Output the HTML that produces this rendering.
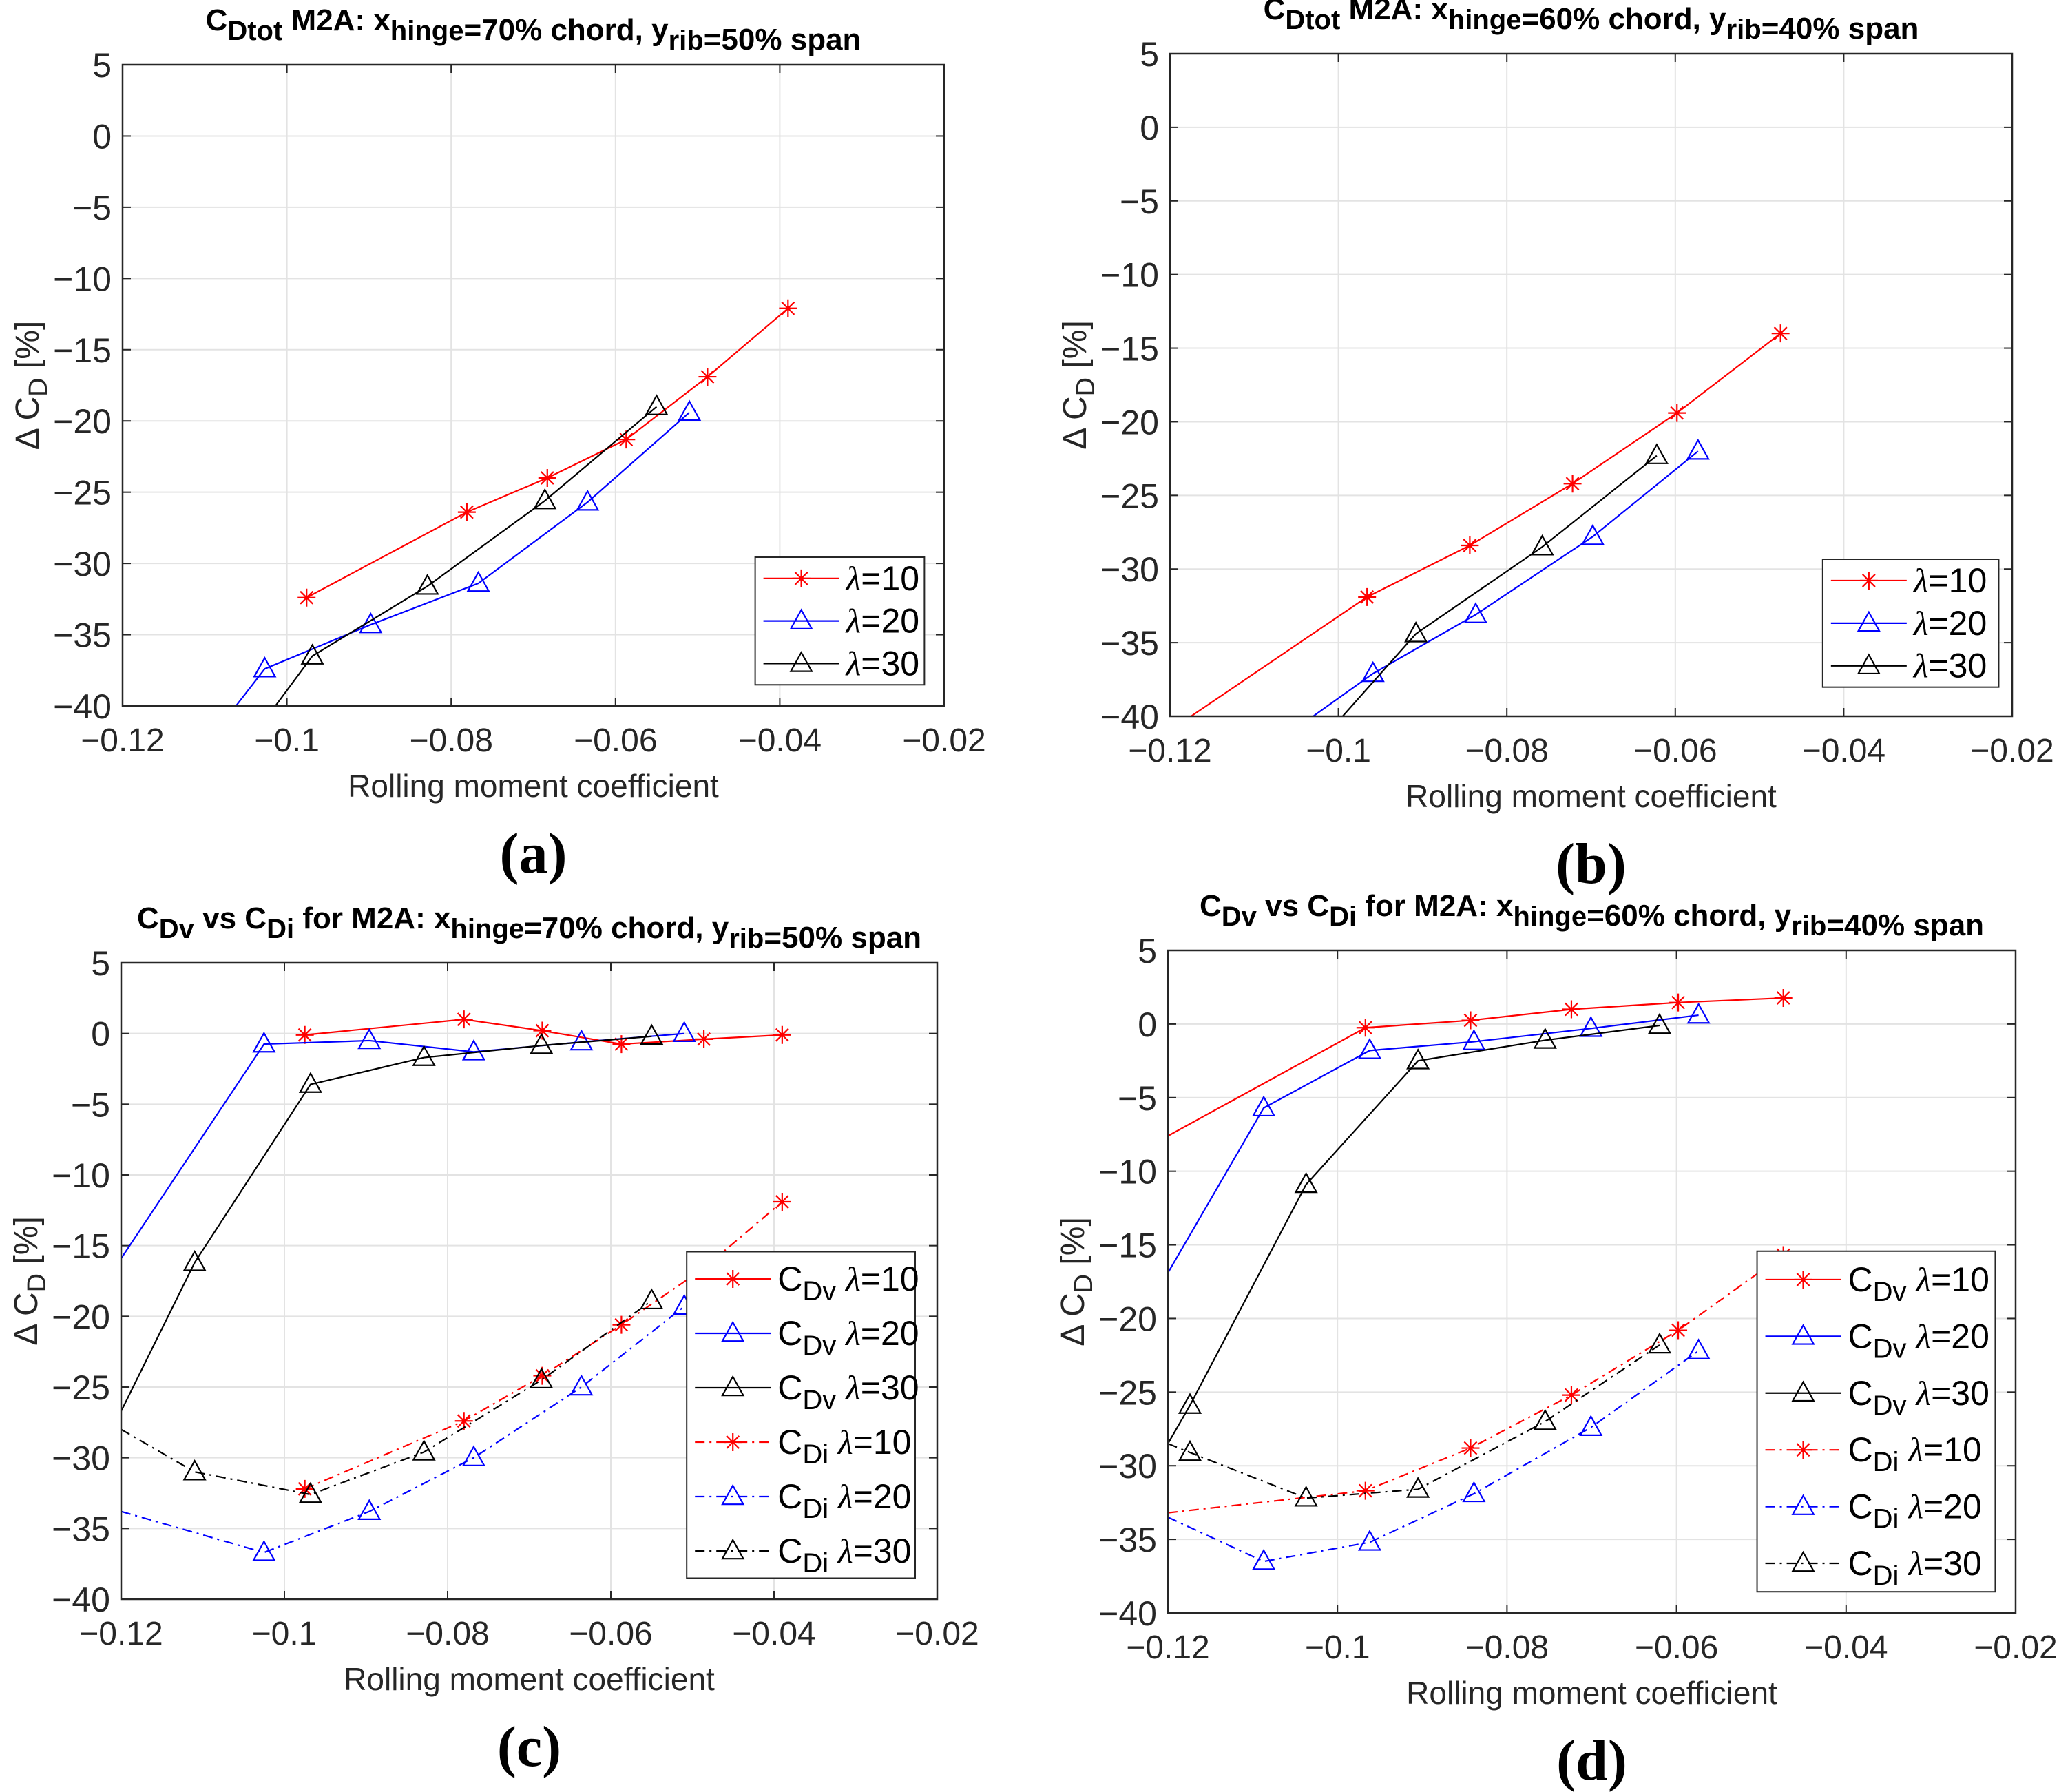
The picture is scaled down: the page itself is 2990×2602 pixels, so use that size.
<!DOCTYPE html>
<html><head><meta charset="utf-8"><style>
body{margin:0;background:#fff;}
svg{display:block;font-family:"Liberation Sans",Arial,sans-serif;}
</style></head><body>
<svg id="fig" width="2990" height="2602" viewBox="0 0 2990 2602" xmlns="http://www.w3.org/2000/svg"></svg>
<script>
// ---- data ----
const xTicks = [-0.12, -0.1, -0.08, -0.06, -0.04, -0.02];
const xTickLabels = ["\u22120.12", "\u22120.1", "\u22120.08", "\u22120.06", "\u22120.04", "\u22120.02"];
const yTicks = [5, 0, -5, -10, -15, -20, -25, -30, -35, -40];
const yTickLabels = ["5", "0", "\u22125", "\u221210", "\u221215", "\u221220", "\u221225", "\u221230", "\u221235", "\u221240"];

// panel a
const aRedX = [-0.0976, -0.0781, -0.0683, -0.0587, -0.0488, -0.039];
const aRedY = [-32.4, -26.4, -24.0, -21.3, -16.9, -12.1];
const aBlueX = [-0.1062, -0.1027, -0.0898, -0.0767, -0.0634, -0.0510];
const aBlueY = [-40, -37.4, -34.3, -31.4, -25.7, -19.4];
const aBlackX = [-0.1014, -0.0969, -0.0829, -0.0686, -0.0550];
const aBlackY = [-40, -36.5, -31.6, -25.6, -19.0];
// panel b
const bRedX = [-0.1175, -0.0966, -0.0844, -0.0722, -0.0598, -0.0475];
const bRedY = [-40, -31.9, -28.4, -24.2, -19.4, -14.0];
const bBlueX = [-0.1030, -0.0959, -0.0837, -0.0698, -0.0573];
const bBlueY = [-40, -37.1, -33.1, -27.8, -22.0];
const bBlackX = [-0.0995, -0.0908, -0.0758, -0.0622];
const bBlackY = [-40, -34.4, -28.5, -22.3];
// panel c
const cDvRedX = [-0.0975, -0.0780, -0.0684, -0.0587, -0.0486, -0.0390];
const cDvRedY = [-0.1, 1.0, 0.2, -0.75, -0.4, -0.1];
const cDvBlueX = [-0.12, -0.1025, -0.0896, -0.0768, -0.0636, -0.0510];
const cDvBlueY = [-15.9, -0.75, -0.5, -1.3, -0.6, 0.0];
const cDvBlackX = [-0.12, -0.111, -0.0968, -0.0829, -0.0685, -0.0550];
const cDvBlackY = [-26.7, -16.2, -3.6, -1.7, -0.85, -0.2];
const cDiRedX = [-0.0975, -0.0780, -0.0684, -0.0587, -0.0486, -0.0390];
const cDiRedY = [-32.2, -27.4, -24.2, -20.6, -16.6, -11.9];
const cDiBlueX = [-0.12, -0.1025, -0.0896, -0.0768, -0.0636, -0.0510];
const cDiBlueY = [-33.8, -36.7, -33.8, -30.0, -25.0, -19.3];
const cDiBlackX = [-0.12, -0.111, -0.0968, -0.0829, -0.0685, -0.0550];
const cDiBlackY = [-28.0, -31.0, -32.6, -29.6, -24.5, -18.9];
// panel d
const dDvRedX = [-0.12, -0.0967, -0.0843, -0.0724, -0.0598, -0.0474];
const dDvRedY = [-7.6, -0.25, 0.25, 1.0, 1.46, 1.77];
const dDvBlueX = [-0.12, -0.1087, -0.0962, -0.0839, -0.0701, -0.0574];
const dDvBlueY = [-16.9, -5.7, -1.8, -1.2, -0.3, 0.6];
const dDvBlackX = [-0.12, -0.1174, -0.1037, -0.0905, -0.0755, -0.0620];
const dDvBlackY = [-28.5, -25.9, -10.9, -2.5, -1.1, -0.1];
const dDiRedX = [-0.12, -0.0967, -0.0843, -0.0724, -0.0598, -0.0474];
const dDiRedY = [-33.2, -31.7, -28.8, -25.2, -20.8, -15.7];
const dDiBlueX = [-0.12, -0.1087, -0.0962, -0.0839, -0.0701, -0.0574];
const dDiBlueY = [-33.5, -36.5, -35.2, -31.9, -27.4, -22.2];
const dDiBlackX = [-0.12, -0.1174, -0.1037, -0.0905, -0.0755, -0.0620];
const dDiBlackY = [-28.5, -29.1, -32.2, -31.6, -27.0, -21.8];

const NS = "http://www.w3.org/2000/svg";
const fig = document.getElementById('fig');
function mk(tag, attrs, parent) {
  const e = document.createElementNS(NS, tag);
  for (const k in attrs) e.setAttribute(k, attrs[k]);
  (parent || fig).appendChild(e);
  return e;
}
function marker(g, type, cx, cy, color) {
  if (type === 'star') {
    const r = 13;
    const p = mk('path', {d: `M${cx-r},${cy}H${cx+r}M${cx},${cy-r}V${cy+r}M${cx-r*0.7},${cy-r*0.7}L${cx+r*0.7},${cy+r*0.7}M${cx-r*0.7},${cy+r*0.7}L${cx+r*0.7},${cy-r*0.7}`, stroke: color, 'stroke-width': 2.2, fill: 'none'}, g);
    
    
  } else {
    const r = 16;
    const p = mk('path', {d: `M${cx},${cy-r}L${cx+r*0.95},${cy+r*0.7}L${cx-r*0.95},${cy+r*0.7}Z`, stroke: color, 'stroke-width': 2.2, fill: 'none'}, g);
    
    
  }
}

function panel(P) {
  const g = mk('g', {});
  
  
  const L = P.l, R = P.r, T = P.t, B = P.b;
  const sx = v => L + (v - (-0.12)) / 0.1 * (R - L);
  const sy = v => T + (5 - v) / 45 * (B - T);
  xTicks.forEach((v, i) => {
    const x = sx(v);
    if (i > 0 && i < xTicks.length - 1) {
      const gl = mk('line', {x1: x, x2: x, y1: T, y2: B, stroke: '#e3e3e3', 'stroke-width': 2}, g);
      
      
    }
    mk('line', {x1: x, x2: x, y1: B, y2: B - 12, stroke: '#262626', 'stroke-width': 2}, g);
    mk('line', {x1: x, x2: x, y1: T, y2: T + 12, stroke: '#262626', 'stroke-width': 2}, g);
    const t = mk('text', {x: x, y: B + 66, 'font-size': 48, 'text-anchor': 'middle', fill: '#262626'}, g);
    t.textContent = xTickLabels[i];
    
    
  });
  yTicks.forEach((v, i) => {
    const y = sy(v);
    if (i > 0 && i < yTicks.length - 1) {
      const gl = mk('line', {x1: L, x2: R, y1: y, y2: y, stroke: '#e3e3e3', 'stroke-width': 2}, g);
      
      
    }
    mk('line', {x1: L, x2: L + 12, y1: y, y2: y, stroke: '#262626', 'stroke-width': 2}, g);
    mk('line', {x1: R, x2: R - 12, y1: y, y2: y, stroke: '#262626', 'stroke-width': 2}, g);
    const t = mk('text', {x: L - 16, y: y + 18, 'font-size': 50, 'text-anchor': 'end', fill: '#262626'}, g);
    t.textContent = yTickLabels[i];
    
    
  });
  P.series.forEach(s => {
    const pts = s.x.map((v, i) => sx(v) + ',' + sy(s.y[i])).join(' ');
    const pl = mk('polyline', {points: pts, fill: 'none', stroke: s.color, 'stroke-width': 2.2, 'stroke-dasharray': s.dash ? '14,7,3,7' : 'none'}, g);
    
    
    s.x.forEach((v, i) => {
      if (s.skipFirst && i === 0) return;
      marker(g, s.mk, sx(v), sy(s.y[i]), s.color);
    });
  });
  const box = mk('rect', {x: L, y: T, width: R - L, height: B - T, fill: 'none', stroke: '#262626', 'stroke-width': 2.5}, g);
  
  
  const tt = mk('text', {x: (L + R) / 2, y: T - 50, 'font-size': 44, 'font-weight': 'bold', 'text-anchor': 'middle', fill: '#000'}, g);
  tt.innerHTML = P.title;
  
  
  const xl = mk('text', {x: (L + R) / 2, y: B + 132, 'font-size': 46, 'text-anchor': 'middle', fill: '#262626'}, g);
  xl.textContent = 'Rolling moment coefficient';
  
  
  const yx = L - 122, yc = (T + B) / 2;
  const yl = mk('text', {x: yx, y: yc, 'font-size': 48, 'text-anchor': 'middle', fill: '#262626', transform: `rotate(-90 ${yx} ${yc})`}, g);
  yl.innerHTML = '\u0394 C<tspan font-size="38" dy="12">D</tspan><tspan dy="-12"> [%]</tspan>';
  
  
  const pl = mk('text', {x: (L + R) / 2, y: B + 242, 'font-size': 84, 'font-weight': 'bold', 'text-anchor': 'middle', fill: '#000', 'font-family': '"Liberation Serif", serif'}, g);
  pl.textContent = P.letter;
  
  
  const lx1 = L + P.leg[0] * (R - L), lx2 = L + P.leg[1] * (R - L);
  const ly1 = T + P.leg[2] * (B - T), ly2 = T + P.leg[3] * (B - T);
  const lg = mk('g', {}, g);
  
  
  mk('rect', {x: lx1, y: ly1, width: lx2 - lx1, height: ly2 - ly1, fill: '#fff', stroke: '#262626', 'stroke-width': 2}, lg);
  const n = P.series.length, rowH = (ly2 - ly1) / n;
  P.series.forEach((s, i) => {
    const cy = ly1 + rowH * (i + 0.5);
    const e = mk('g', {}, lg);
    
    
    mk('line', {x1: lx1 + 12, x2: lx1 + 122, y1: cy, y2: cy, stroke: s.color, 'stroke-width': 2.2, 'stroke-dasharray': s.dash ? '14,7,3,7' : 'none'}, e);
    marker(e, s.mk, lx1 + 67, cy, s.color);
    const t = mk('text', {x: lx1 + 132, y: cy + 17, 'font-size': 50, fill: '#000'}, e);
    t.innerHTML = s.label;
  });
}

const lam = '<tspan font-family="Liberation Serif, serif" font-style="italic">\u03bb</tspan>';
function sub(a, b) { return a + '<tspan font-size="40" dy="14">' + b + '</tspan><tspan dy="-14"> </tspan>'; }
function subn(a, b) { return a + '<tspan font-size="40" dy="14">' + b + '</tspan><tspan dy="-14"></tspan>'; }

panel({name: 'panel-a', letter: '(a)', l: 178, r: 1371, t: 94, b: 1025, leg: [0.770, 0.976, 0.768, 0.967],
  title: sub('C', 'Dtot') + 'M2A: ' + subn('x', 'hinge') + '=70% chord, ' + subn('y', 'rib') + '=50% span',
  series: [
    {id: 'lambda10', x: aRedX, y: aRedY, color: '#ff0000', mk: 'star', label: lam + '=10'},
    {id: 'lambda20', x: aBlueX, y: aBlueY, color: '#0000ff', mk: 'tri', skipFirst: true, label: lam + '=20'},
    {id: 'lambda30', x: aBlackX, y: aBlackY, color: '#000000', mk: 'tri', skipFirst: true, label: lam + '=30'}]});

panel({name: 'panel-b', letter: '(b)', l: 1699, r: 2922, t: 78, b: 1040, leg: [0.775, 0.984, 0.763, 0.956],
  title: sub('C', 'Dtot') + 'M2A: ' + subn('x', 'hinge') + '=60% chord, ' + subn('y', 'rib') + '=40% span',
  series: [
    {id: 'lambda10', x: bRedX, y: bRedY, color: '#ff0000', mk: 'star', skipFirst: true, label: lam + '=10'},
    {id: 'lambda20', x: bBlueX, y: bBlueY, color: '#0000ff', mk: 'tri', skipFirst: true, label: lam + '=20'},
    {id: 'lambda30', x: bBlackX, y: bBlackY, color: '#000000', mk: 'tri', skipFirst: true, label: lam + '=30'}]});

const cdTitle = (c, s) => sub('C', 'Dv') + 'vs ' + sub('C', 'Di') + 'for M2A: ' + subn('x', 'hinge') + '=' + c + '% chord, ' + subn('y', 'rib') + '=' + s + '% span';

panel({name: 'panel-c', letter: '(c)', l: 176, r: 1361, t: 1398, b: 2322, leg: [0.693, 0.973, 0.454, 0.967],
  title: cdTitle(70, 50),
  series: [
    {id: 'cdv-lambda10', x: cDvRedX, y: cDvRedY, color: '#ff0000', mk: 'star', label: sub('C', 'Dv') + lam + '=10'},
    {id: 'cdv-lambda20', x: cDvBlueX, y: cDvBlueY, color: '#0000ff', mk: 'tri', skipFirst: true, label: sub('C', 'Dv') + lam + '=20'},
    {id: 'cdv-lambda30', x: cDvBlackX, y: cDvBlackY, color: '#000000', mk: 'tri', skipFirst: true, label: sub('C', 'Dv') + lam + '=30'},
    {id: 'cdi-lambda10', x: cDiRedX, y: cDiRedY, color: '#ff0000', mk: 'star', dash: true, label: sub('C', 'Di') + lam + '=10'},
    {id: 'cdi-lambda20', x: cDiBlueX, y: cDiBlueY, color: '#0000ff', mk: 'tri', dash: true, skipFirst: true, label: sub('C', 'Di') + lam + '=20'},
    {id: 'cdi-lambda30', x: cDiBlackX, y: cDiBlackY, color: '#000000', mk: 'tri', dash: true, skipFirst: true, label: sub('C', 'Di') + lam + '=30'}]});

panel({name: 'panel-d', letter: '(d)', l: 1696, r: 2927, t: 1380, b: 2342, leg: [0.695, 0.976, 0.454, 0.968],
  title: cdTitle(60, 40),
  series: [
    {id: 'cdv-lambda10', x: dDvRedX, y: dDvRedY, color: '#ff0000', mk: 'star', skipFirst: true, label: sub('C', 'Dv') + lam + '=10'},
    {id: 'cdv-lambda20', x: dDvBlueX, y: dDvBlueY, color: '#0000ff', mk: 'tri', skipFirst: true, label: sub('C', 'Dv') + lam + '=20'},
    {id: 'cdv-lambda30', x: dDvBlackX, y: dDvBlackY, color: '#000000', mk: 'tri', skipFirst: true, label: sub('C', 'Dv') + lam + '=30'},
    {id: 'cdi-lambda10', x: dDiRedX, y: dDiRedY, color: '#ff0000', mk: 'star', dash: true, skipFirst: true, label: sub('C', 'Di') + lam + '=10'},
    {id: 'cdi-lambda20', x: dDiBlueX, y: dDiBlueY, color: '#0000ff', mk: 'tri', dash: true, skipFirst: true, label: sub('C', 'Di') + lam + '=20'},
    {id: 'cdi-lambda30', x: dDiBlackX, y: dDiBlackY, color: '#000000', mk: 'tri', dash: true, skipFirst: true, label: sub('C', 'Di') + lam + '=30'}]});
</script>
</body></html>
